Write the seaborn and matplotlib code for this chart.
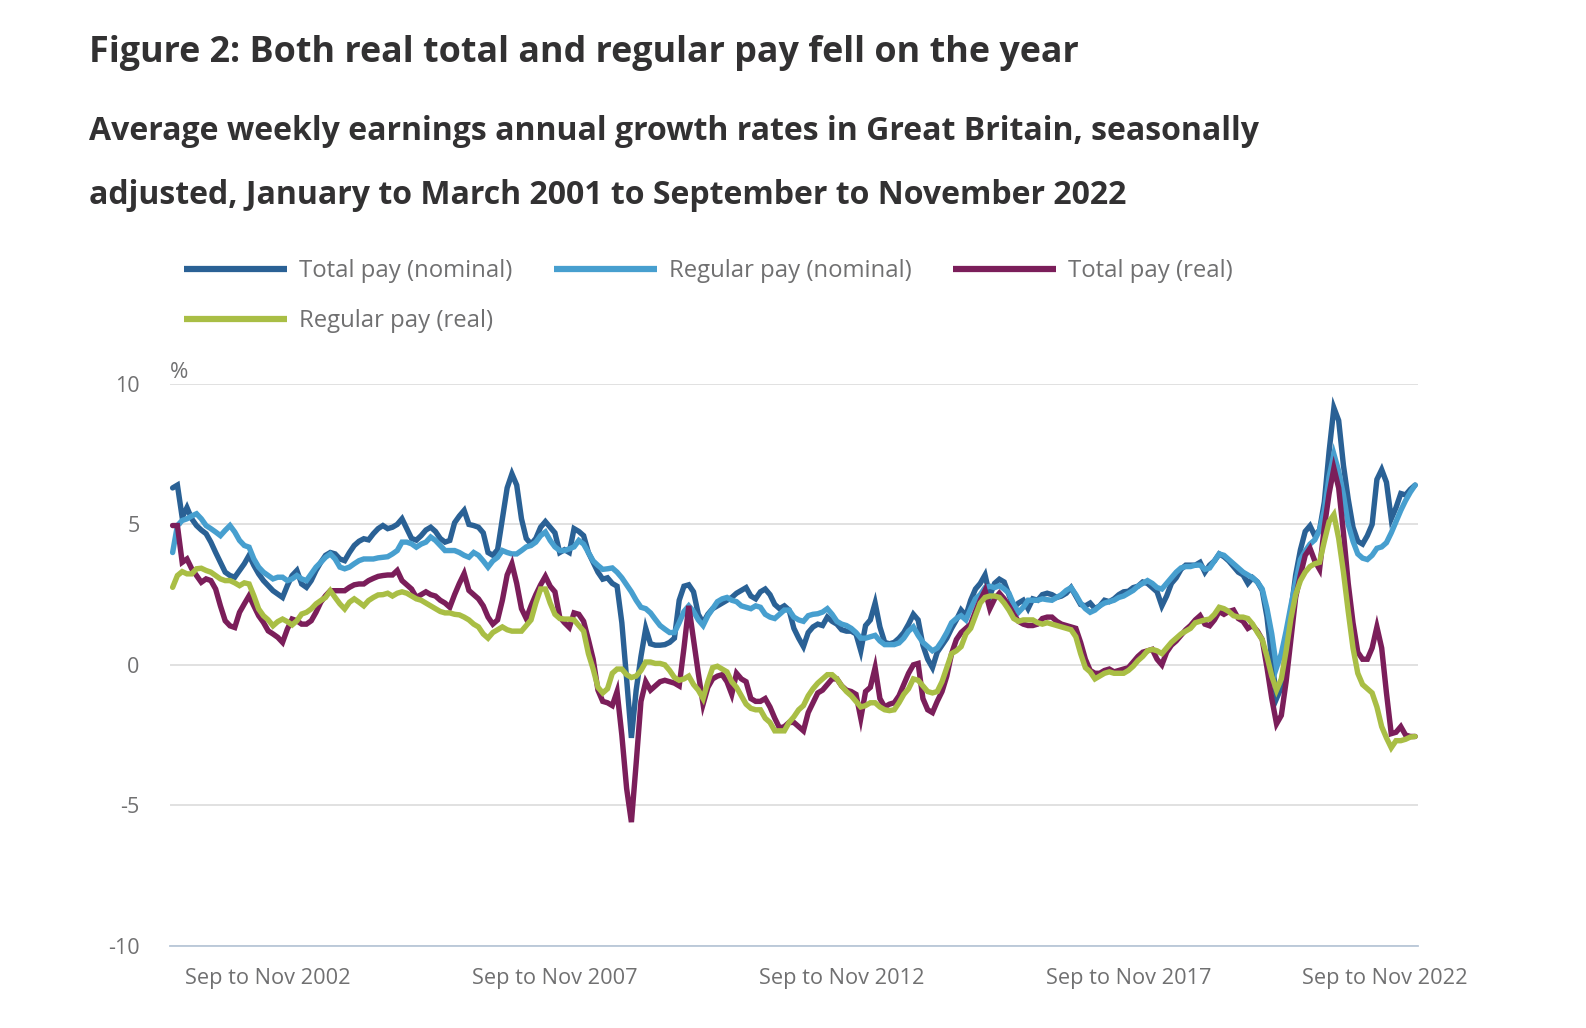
import numpy as np
import pandas as pd
import matplotlib
matplotlib.use("Agg")
import matplotlib.pyplot as plt
import matplotlib.transforms as mtransforms
import seaborn as sns
from matplotlib.lines import Line2D

# ---------------- data ----------------
periods = pd.period_range("2001-03", "2022-11", freq="M")  # 3-month periods, by end month

total_nominal = [
    6.3, 6.4, 5.25, 5.6, 5.2, 4.96, 4.8, 4.67, 4.37, 4.0, 3.65, 3.3, 3.18, 3.12, 3.36, 3.6, 3.9, 3.54, 3.24, 3.0,
    2.82, 2.64, 2.52, 2.4, 2.82, 3.18, 3.36, 2.88, 2.76, 3.0, 3.36, 3.65, 3.9, 4.0, 3.95, 3.77, 3.71, 4.0, 4.25, 4.4,
    4.49, 4.45, 4.67, 4.85,
    4.96, 4.85, 4.9, 5.0, 5.2, 4.85, 4.5, 4.44, 4.6, 4.8, 4.9, 4.75, 4.5, 4.37, 4.43, 5.06, 5.3, 5.5, 5.0, 4.96,
    4.9, 4.7, 4.0, 3.9, 4.1, 5.2, 6.3, 6.8, 6.4, 5.2, 4.5, 4.3, 4.5, 4.9, 5.1, 4.9, 4.7, 4.0, 4.1, 4.0, 4.85,
    4.75, 4.6, 4.0, 3.65, 3.3, 3.05, 3.1, 2.9, 2.8, 1.5, -0.5, -2.6, -0.9, 0.3, 1.3, 0.75, 0.7, 0.7, 0.72, 0.8,
    0.95, 2.3, 2.8, 2.85, 2.6, 1.8, 1.5, 1.8, 2.0, 2.1, 2.2, 2.3, 2.4, 2.55, 2.65, 2.75, 2.45, 2.35, 2.6, 2.7,
    2.5, 2.15, 2.0, 2.1, 1.95, 1.3, 0.95,
    0.65, 1.15, 1.35, 1.45, 1.4, 1.7, 1.55, 1.45, 1.25, 1.2, 1.2, 1.1, 0.5, 1.4, 1.6, 2.2, 1.35, 0.8, 0.75, 0.8,
    0.95, 1.15, 1.45, 1.8, 1.6, 0.7, 0.2, -0.1, 0.45, 0.7, 0.95, 1.3, 1.6, 1.95, 1.75, 2.3, 2.7, 2.9, 3.2, 2.46,
    2.9,
    3.05, 2.95, 2.5, 2.05, 2.2, 2.3, 2.0, 2.35, 2.3, 2.5, 2.55, 2.5, 2.4, 2.45, 2.55, 2.75, 2.45, 2.15, 2.1, 2.2,
    2.0, 2.1, 2.3, 2.25, 2.35, 2.5, 2.6, 2.62, 2.75, 2.8, 2.95, 2.9, 2.75, 2.6, 2.1, 2.45, 2.9, 3.1, 3.4, 3.55,
    3.55, 3.55, 3.65, 3.3,
    3.55, 3.7, 3.95, 3.85, 3.7, 3.5, 3.3, 3.2, 2.9, 3.1, 2.95, 2.65, 1.7, 0.2, -1.2, -0.8, 0.6, 1.9, 3.2, 4.1,
    4.75, 4.95, 4.6, 4.8, 5.8, 7.6, 9.15, 8.7, 7.1, 5.9, 4.9, 4.4, 4.3, 4.6, 5.0, 6.6, 6.95, 6.5, 5.2, 5.6,
    6.1, 6.05, 6.25, 6.4,
]

regular_nominal = [
    4.0, 4.96, 5.14, 5.2, 5.3, 5.38, 5.2, 4.96, 4.85, 4.73, 4.6, 4.79, 4.96, 4.73, 4.43, 4.25, 4.19, 3.77, 3.48, 3.3,
    3.18, 3.06, 3.12, 3.12, 3.0, 3.06, 3.18, 3.06, 3.0, 3.24, 3.48, 3.65, 3.83, 3.95, 3.77, 3.48, 3.42, 3.48, 3.6, 3.71,
    3.77, 3.77, 3.77, 3.81,
    3.83, 3.85, 3.95, 4.07, 4.37, 4.37, 4.31, 4.19, 4.3, 4.37, 4.55, 4.43, 4.25, 4.07, 4.07, 4.07, 4.0, 3.9, 3.83, 4.0,
    3.9, 3.7, 3.48, 3.7, 3.83, 4.07, 4.0, 3.95, 3.95, 4.07, 4.2, 4.25, 4.37, 4.6, 4.73, 4.43, 4.2, 4.07, 4.07, 4.13,
    4.2,
    4.43, 4.3, 4.0, 3.7, 3.54, 3.4, 3.42, 3.45, 3.3, 3.1, 2.85, 2.6, 2.3, 2.05, 2.0, 1.85, 1.62, 1.4, 1.27, 1.15,
    1.15, 1.5, 1.9, 2.1, 1.9, 1.6, 1.4, 1.75, 2.0, 2.25, 2.35, 2.4, 2.3, 2.25, 2.1, 2.05, 2.0, 2.1, 2.05, 1.8,
    1.7, 1.65, 1.8, 1.95, 1.95, 1.7, 1.6,
    1.55, 1.75, 1.8, 1.82, 1.88, 2.0, 1.8, 1.55, 1.45, 1.4, 1.3, 1.15, 0.95, 0.95, 1.0, 1.05, 0.85, 0.72, 0.72, 0.72,
    0.78, 0.95, 1.2, 1.35, 1.05, 0.8, 0.65, 0.5, 0.6, 0.85, 1.15, 1.5, 1.65, 1.75, 1.6, 2.0, 2.35, 2.5, 2.75, 2.8,
    2.75,
    2.82, 2.7, 2.55, 2.15, 1.87, 2.05, 2.3, 2.3, 2.3, 2.35, 2.32, 2.3, 2.4, 2.5, 2.65, 2.75, 2.5, 2.2, 2.0, 1.87,
    1.95, 2.1, 2.2, 2.25, 2.3, 2.4, 2.45, 2.55, 2.65, 2.8, 2.9, 3.0, 2.9, 2.75, 2.7, 2.9, 3.1, 3.3, 3.45, 3.5,
    3.5, 3.55, 3.55, 3.4,
    3.45, 3.7, 3.95, 3.9, 3.75, 3.6, 3.45, 3.3, 3.2, 3.1, 2.95, 2.7, 2.0, 1.1, -0.1, 0.4, 1.2, 2.1, 2.95, 3.75,
    4.05, 4.3, 4.45, 4.8, 5.5, 6.7, 7.5, 6.9, 6.05, 5.0, 4.4, 3.95, 3.8, 3.75, 3.9, 4.15, 4.2, 4.35, 4.7, 5.1,
    5.5, 5.85, 6.15, 6.4,
]

total_real = [
    4.96, 4.96, 3.65, 3.77, 3.42, 3.18, 2.94, 3.06, 3.0, 2.7, 2.1, 1.57, 1.39, 1.33, 1.87, 2.17, 2.46, 2.1, 1.75, 1.51,
    1.21, 1.1, 0.98, 0.8, 1.27, 1.63, 1.57, 1.45, 1.45, 1.57, 1.87, 2.23, 2.46, 2.64, 2.64, 2.64, 2.64, 2.76, 2.85, 2.88,
    2.88, 3.0, 3.08, 3.15,
    3.18, 3.2, 3.2, 3.36, 3.0, 2.85, 2.7, 2.4, 2.5, 2.6, 2.5, 2.45, 2.3, 2.2, 2.05, 2.5, 2.9, 3.25, 2.65, 2.5,
    2.35, 2.1, 1.7, 1.45, 1.6, 2.3, 3.2, 3.6, 2.9, 2.0, 1.65, 2.1, 2.5, 2.85, 3.15, 2.8, 2.6, 1.7, 1.5, 1.33,
    1.85,
    1.8, 1.55, 0.9, 0.2, -0.9, -1.3, -1.35, -1.45, -0.95, -2.5, -4.4, -5.6, -3.5, -1.3, -0.6, -0.9, -0.75, -0.6, -0.55, -0.6,
    -0.65, -0.75, 0.6, 2.1, 0.9, -0.3, -1.4, -0.8, -0.5, -0.4, -0.35, -0.6, -1.05, -0.3, -0.5, -0.6, -1.2, -1.3, -1.3, -1.2,
    -1.5, -1.9, -2.25, -2.2, -2.05, -2.05, -2.2,
    -2.35, -1.7, -1.35, -1.0, -0.9, -0.7, -0.5, -0.5, -0.75, -0.9, -0.95, -1.05, -1.9, -0.95, -0.8, -0.1, -1.2, -1.5, -1.4, -1.35,
    -1.1, -0.7, -0.3, 0.0, 0.05, -1.2, -1.6, -1.7, -1.3, -0.95, -0.4, 0.4, 0.9, 1.15, 1.3, 1.45, 1.9, 2.3, 2.65, 2.0,
    2.35,
    2.55, 2.35, 2.1, 1.8, 1.55, 1.45, 1.4, 1.4, 1.45, 1.65, 1.7, 1.7, 1.55, 1.45, 1.4, 1.35, 1.3, 0.8, 0.2, -0.2,
    -0.3, -0.3, -0.2, -0.15, -0.25, -0.2, -0.15, -0.1, 0.1, 0.3, 0.45, 0.5, 0.55, 0.2, 0.0, 0.45, 0.7, 0.85, 1.05, 1.25,
    1.4, 1.6, 1.75, 1.45,
    1.39, 1.6, 1.9, 1.8, 1.9, 1.95, 1.65, 1.55, 1.3, 1.4, 1.2, 0.9, -0.1, -1.2, -2.1, -1.8, -0.6, 0.9, 2.4, 3.2,
    3.9, 4.15, 3.7, 3.4, 4.9, 6.1, 7.0, 6.3, 4.7, 2.9, 1.5, 0.45, 0.2, 0.2, 0.6, 1.35, 0.6, -1.0, -2.45, -2.4,
    -2.2, -2.5, -2.55, -2.55,
]

regular_real = [
    2.76, 3.18, 3.32, 3.24, 3.24, 3.42, 3.44, 3.36, 3.3, 3.18, 3.06, 3.0, 3.0, 2.92, 2.82, 2.92, 2.88, 2.46, 1.99, 1.75,
    1.6, 1.39, 1.54, 1.63, 1.54, 1.42, 1.57, 1.81, 1.87, 1.99, 2.17, 2.29, 2.4, 2.64, 2.4, 2.17, 1.99, 2.23, 2.35, 2.23,
    2.1, 2.29, 2.4, 2.49,
    2.5, 2.55, 2.45, 2.55, 2.6, 2.55, 2.45, 2.35, 2.3, 2.2, 2.1, 2.0, 1.9, 1.85, 1.85, 1.8, 1.78, 1.7, 1.6, 1.45,
    1.35, 1.1, 0.95, 1.15, 1.25, 1.35, 1.25, 1.2, 1.2, 1.2, 1.4, 1.6, 2.2, 2.7, 2.7, 2.2, 1.8, 1.65, 1.63, 1.63,
    1.6,
    1.4, 1.2, 0.4, -0.15, -0.8, -1.0, -0.85, -0.3, -0.15, -0.15, -0.35, -0.45, -0.4, -0.2, 0.1, 0.1, 0.05, 0.05, 0.0, -0.2,
    -0.45, -0.55, -0.5, -0.4, -0.7, -0.9, -1.2, -0.6, -0.1, -0.05, -0.15, -0.25, -0.6, -0.8, -1.1, -1.4, -1.55, -1.6, -1.6, -1.9,
    -2.05, -2.35, -2.35, -2.35, -2.05, -1.85, -1.6,
    -1.45, -1.1, -0.85, -0.65, -0.5, -0.35, -0.35, -0.5, -0.75, -0.95, -1.1, -1.3, -1.5, -1.45, -1.35, -1.35, -1.5, -1.6, -1.63, -1.6,
    -1.35, -1.05, -0.85, -0.5, -0.55, -0.75, -0.95, -1.0, -0.95, -0.6, -0.1, 0.4, 0.5, 0.65, 1.1, 1.3, 1.75, 2.2, 2.4, 2.45,
    2.45,
    2.4, 2.2, 1.95, 1.65, 1.55, 1.6, 1.6, 1.6, 1.5, 1.45, 1.5, 1.45, 1.4, 1.35, 1.3, 1.25, 1.0, 0.4, -0.1, -0.25,
    -0.5, -0.4, -0.3, -0.25, -0.3, -0.3, -0.3, -0.2, -0.05, 0.15, 0.3, 0.5, 0.55, 0.5, 0.4, 0.6, 0.8, 0.95, 1.1, 1.2,
    1.3, 1.5, 1.55, 1.6,
    1.63, 1.8, 2.05, 2.0, 1.9, 1.75, 1.7, 1.7, 1.65, 1.45, 1.15, 0.9, 0.3, -0.4, -0.9, -0.5, 0.5, 1.65, 2.5, 3.0,
    3.3, 3.5, 3.6, 3.65, 4.4, 5.1, 5.35, 4.5, 3.3, 1.9, 0.6, -0.3, -0.7, -0.85, -1.0, -1.5, -2.2, -2.6, -2.95, -2.7,
    -2.7, -2.65, -2.57, -2.55,
]

series_names = ["Total pay (nominal)", "Regular pay (nominal)", "Total pay (real)", "Regular pay (real)"]
series_colors = ["#2a6195", "#479fcf", "#7b1e5a", "#a9be45"]
tick_periods = ["2002-11", "2007-11", "2012-11", "2017-11", "2022-11"]
tick_labels = ["Sep to Nov 2002", "Sep to Nov 2007", "Sep to Nov 2012", "Sep to Nov 2017", "Sep to Nov 2022"]
y_ticks = [-10, -5, 0, 5, 10]

title = "Figure 2: Both real total and regular pay fell on the year"
subtitle1 = "Average weekly earnings annual growth rates in Great Britain, seasonally"
subtitle2 = "adjusted, January to March 2001 to September to November 2022"

# ---------------- build the frame ----------------
x_idx = np.arange(len(periods))
frames = []
for name, vals in zip(series_names, [total_nominal, regular_nominal, total_real, regular_real]):
    assert len(vals) == len(periods), (name, len(vals))
    frames.append(pd.DataFrame({"x": x_idx, "value": vals, "series": name}))
df = pd.concat(frames, ignore_index=True)

# ---------------- style ----------------
sns.set_theme(style="white")
plt.rcParams["font.family"] = ["Open Sans", "DejaVu Sans"]

W, H = 1586, 1028
fig = plt.figure(figsize=(W / 100, H / 100), dpi=100)
fig.patch.set_facecolor("white")

ax_left, ax_right, ax_top, ax_bottom = 170, 1418, 384, 945.7
ax = fig.add_axes([ax_left / W, 1 - ax_bottom / H, (ax_right - ax_left) / W, (ax_bottom - ax_top) / H])

palette = dict(zip(series_names, series_colors))
sns.lineplot(data=df, x="x", y="value", hue="series", hue_order=series_names,
             palette=palette, linewidth=3.9, legend=False, ax=ax, estimator=None)
for ln in ax.get_lines():
    ln.set_solid_joinstyle("miter")
    ln.set_clip_on(False)

ax.set_xlim(-0.55, len(periods) - 1 + 0.6)
ax.set_ylim(-10, 10)

text_grey = "#707071"
ax.set_yticks(y_ticks)
ax.set_yticklabels([str(v) for v in y_ticks])
ax.yaxis.grid(True, color="#d9d9d9", linewidth=1.1)
ax.xaxis.grid(False)
ax.set_axisbelow(True)
ax.tick_params(axis="y", length=0, pad=22, labelsize=15.5, labelcolor=text_grey)

tick_pos = [periods.get_loc(pd.Period(p, freq="M")) for p in tick_periods]
ax.set_xticks(tick_pos)
ax.set_xticklabels(tick_labels)
ax.tick_params(axis="x", length=8, width=1.2, color="#b9c7d8", pad=8, labelsize=15.7, labelcolor=text_grey)
# last label is pulled left so it stays inside the chart, as in the reference
last_lbl = ax.get_xticklabels()[-1]
last_lbl.set_transform(last_lbl.get_transform() +
                       mtransforms.ScaledTranslation(-30 / 100, 0, fig.dpi_scale_trans))

for side in ["top", "right", "left"]:
    ax.spines[side].set_visible(False)
ax.spines["bottom"].set_color("#b9c7d8")
ax.spines["bottom"].set_linewidth(1.3)
ax.set_xlabel("")
ax.set_ylabel("")

# unit label
fig.text(170 / W, 1 - 373 / H, "%", fontsize=16, color=text_grey, ha="left", va="center")

# titles
title_col = "#323132"
fig.text(89 / W, 1 - 53 / H, title, fontsize=25.8, fontweight="bold", color=title_col, ha="left", va="center")
fig.text(89 / W, 1 - 132 / H, subtitle1, fontsize=23.0, fontweight="bold", color=title_col, ha="left", va="center")
fig.text(89 / W, 1 - 195 / H, subtitle2, fontsize=23.0, fontweight="bold", color=title_col, ha="left", va="center")

# legend (row-major order via column-major reordering)
handles = [Line2D([0], [0], color=c, linewidth=4.5, solid_capstyle="butt") for c in series_colors]
order = [0, 3, 1, 2]
leg = fig.legend([handles[i] for i in order], [series_names[i] for i in order],
                 loc="upper left", bbox_to_anchor=(184 / W, 1 - 259 / H), ncol=3, frameon=False,
                 fontsize=17.2, handlelength=4.3, handletextpad=0.5, columnspacing=1.75,
                 labelspacing=1.1, borderaxespad=0, borderpad=0)
for t in leg.get_texts():
    t.set_color(text_grey)

fig.savefig("out.png", dpi=100, facecolor="white")
